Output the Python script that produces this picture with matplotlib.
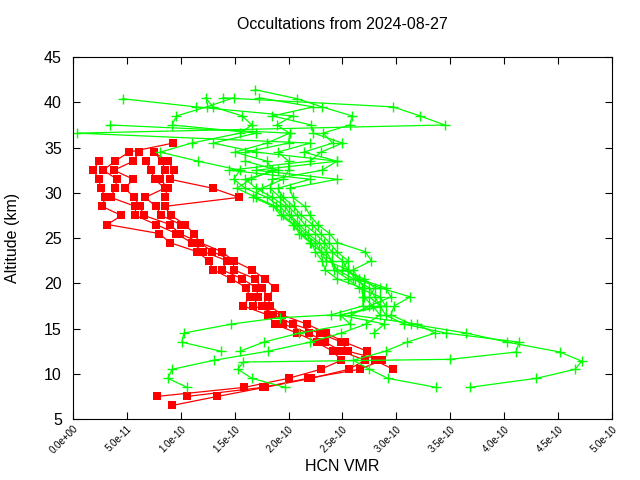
import numpy as np
import matplotlib
matplotlib.use("Agg")
import matplotlib.pyplot as plt
from matplotlib.ticker import FuncFormatter

nan = np.nan

# red profiles: common altitude grid (km), VMR in units of 1e-10
red_alt = [6.5, 7.5, 8.5, 9.5, 10.5, 11.5, 12.5, 13.5, 14.5, 15.5,
           16.5, 17.5, 18.5, 19.5, 20.5, 21.5, 22.5, 23.5, 24.5, 25.5,
           26.5, 27.5, 28.5, 29.5, 30.5, 31.5, 32.5, 33.5, 34.5, 35.5]
red_1 = [nan, 0.78, 1.59, 2.00, 2.30, 2.49, 2.41, 2.26, 2.08, 1.87,
         1.81, 1.58, 1.64, 1.61, 1.47, 1.30, 1.26, 1.15, 0.90, 0.80,
         0.32, 0.45, 0.27, 0.30, 0.26, 0.24, 0.19, 0.24, nan, nan]
red_2 = [0.92, 1.34, 1.78, 2.21, 2.56, 2.71, 2.49, 2.34, 2.19, 1.95,
         1.94, 1.67, 1.72, 1.70, 1.57, 1.38, 1.43, 1.21, 1.10, 0.96,
         0.77, 0.58, 0.58, 0.35, 0.39, 0.41, 0.28, 0.39, 0.52, 0.93]
red_3 = [nan, 1.06, 1.76, 2.18, 2.66, 2.87, 2.55, 2.49, 2.29, 2.04,
         1.86, 1.75, 1.81, 1.75, 1.69, 1.49, 1.49, 1.29, 1.18, 0.99,
         0.90, 0.66, 0.62, 0.57, 0.48, 0.56, 0.38, 0.56, 0.61, nan]
red_4 = [nan, nan, nan, nan, 2.97, 2.80, 2.73, 2.52, 2.35, 2.17,
         1.94, 1.83, 1.81, 1.87, 1.78, 1.66, 1.49, 1.38, 1.18, 1.12,
         1.04, 0.91, 0.85, 1.54, 1.30, 0.90, 0.94, 0.88, 0.75, nan]
red_5 = [nan, nan, nan, nan, nan, nan, nan, nan, nan, nan,
         nan, nan, nan, nan, nan, nan, nan, nan, nan, nan,
         1.00, 0.82, 0.77, 0.67, 0.85, 0.76, 0.72, 0.68, nan, nan]
red_6 = [nan, nan, nan, nan, nan, nan, nan, nan, nan, nan,
         nan, nan, nan, nan, nan, nan, nan, nan, nan, nan,
         nan, nan, nan, 0.85, 0.88, 0.81, 0.85, 0.83, 0.75, nan]

# green profiles: each with its own altitudes
green_alt_1 = [8.5, 9.5, 10.5, 11.4, 12.4, 13.5, 14.5, 15.5, 16.5, 17.5,
               18.5, 19.5, 20.5, 21.5, 22.5, 23.5, 24.5, 25.5, 26.5, 27.5,
               28.5, 29.5, 30.5, 31.5, 32.5, 33.5, 34.5, 35.5, 36.6, 37.5,
               38.5, 39.5, 40.4, 41.4]
green_1 = [3.68, 4.30, 4.66, 4.72, 4.52, 4.03, 3.65, 3.14, 2.95, 2.98,
           3.13, 2.85, 2.62, 2.55, 2.50, 2.40, 2.33, 2.25, 2.15, 2.08,
           2.00, 1.92, 1.83, 1.85, 2.31, 2.45, 2.14, 2.41, 2.32, 2.57,
           2.59, 2.31, 2.08, 1.69]
green_alt_2 = [8.5, 9.5, 10.5, 11.3, 11.6, 12.4, 13.5, 14.5, 15.5, 16.5,
               17.5, 18.5, 19.5, 20.5, 21.5, 22.5, 23.5, 24.5, 25.5, 26.5,
               27.5, 28.5, 29.5, 30.5, 31.5, 32.5, 33.5, 34.5, 35.5, 36.6,
               37.5, 38.5, 39.5, 40.5]
green_2 = [1.97, 1.66, 1.53, 1.58, 3.50, 4.11, 4.14, 3.46, 3.07, 2.90,
           2.85, 2.80, 2.75, 2.60, 2.45, 2.40, 2.30, 2.25, 2.15, 2.08,
           2.00, 1.92, 1.80, 1.60, 1.49, 1.55, 1.16, 0.81, 1.10, 1.55,
           1.66, 1.57, 1.30, 1.23]
green_alt_3 = [8.5, 9.5, 10.5, 11.5, 12.5, 13.5, 14.5, 15.5, 16.5, 17.5,
               18.5, 19.5, 20.5, 21.5, 22.5, 23.5, 24.5, 25.5, 26.5, 27.5,
               28.5, 29.5, 30.5, 31.5, 32.5, 33.5, 34.5, 35.5, 36.6, 37.5,
               38.5, 39.5, 40.4]
green_3 = [1.06, 0.88, 0.92, 1.31, 1.81, 2.20, 2.49, 2.72, 2.85, 2.78,
           2.70, 2.70, 2.65, 2.55, 2.35, 2.30, 2.20, 2.10, 2.05, 1.95,
           1.88, 1.70, 1.52, 1.65, 1.85, 1.80, 1.50, 1.80, 2.01, 1.89,
           2.04, 1.14, 0.46]
green_alt_4 = [12.5, 13.5, 14.5, 15.5, 16.2, 16.5, 17.5, 18.5, 19.5, 20.5,
               21.5, 22.5, 23.5, 24.5, 25.5, 26.5, 27.5, 28.5, 29.5, 30.5,
               31.5, 32.5, 33.5, 34.5, 35.5, 36.6, 37.5, 38.5, 39.5, 40.5]
green_4 = [1.37, 1.01, 1.03, 1.47, 1.92, 2.39, 2.69, 2.69, 2.68, 2.45,
           2.34, 2.31, 2.25, 2.21, 2.12, 2.04, 1.93, 1.86, 1.67, 1.75,
           1.95, 2.00, 2.00, 1.90, 2.20, 0.04, 3.45, 3.22, 2.97, 1.39]
green_alt_5 = [8.5, 9.5, 10.5, 11.5, 12.5, 13.5, 14.5, 15.5, 16.5, 17.5,
               18.5, 19.5, 20.5, 21.5, 22.5, 23.5, 24.5, 25.5, 26.5, 27.5,
               28.5, 29.5, 30.5, 31.5, 32.5, 33.5, 34.5, 35.5, 36.6, 37.5,
               38.5, 39.5, 40.5]
green_5 = [3.37, 2.92, 2.75, 2.60, 2.90, 3.10, 3.36, 3.19, 2.58, 2.75,
           2.95, 2.90, 2.65, 2.60, 2.77, 2.71, 2.45, 2.38, 2.27, 2.20,
           2.15, 2.04, 2.01, 2.45, 1.70, 2.45, 1.70, 1.30, 1.70, 0.92,
           0.96, 1.24, 1.49]
green_alt_6 = [12.5, 13.5, 14.5, 15.5, 16.5, 17.5, 18.5, 19.5, 20.5, 21.5,
               22.5, 23.5, 24.5, 25.5, 26.5, 27.5, 28.5, 29.5, 30.5, 31.5,
               32.5, 33.5, 34.5, 35.5, 36.6, 37.5, 38.5, 39.5, 40.5]
green_6 = [1.55, 1.77, 2.10, 2.57, 2.48, 2.85, 2.75, 2.80, 2.70, 2.50,
           2.55, 2.45, 2.38, 2.30, 2.22, 2.12, 2.05, 1.95, 1.90, 2.20,
           1.45, 2.20, 2.30, 2.50, 2.23, 2.21, 1.85, 2.23, 1.73]
green_alt_7 = [14.5, 15.5, 16.5, 17.5, 18.5, 19.5, 20.5, 21.5, 22.5, 23.5,
               24.5, 25.5, 26.5, 27.5, 28.5, 29.5, 30.5, 31.5, 32.5, 33.5,
               34.5, 35.5, 36.6, 37.5]
green_7 = [2.79, 2.89, 2.48, 2.90, 2.85, 2.65, 2.55, 2.42, 2.40, 2.35,
           2.28, 2.18, 2.10, 2.02, 1.97, 1.85, 1.70, 1.60, 1.90, 1.60,
           1.60, 2.00, 2.01, 0.34]

red_profiles = [red_1, red_2, red_3, red_4, red_5, red_6]
green_profiles = [(green_alt_1, green_1), (green_alt_2, green_2),
                  (green_alt_3, green_3), (green_alt_4, green_4),
                  (green_alt_5, green_5), (green_alt_6, green_6),
                  (green_alt_7, green_7)]

plt.rcParams['font.family'] = ['Liberation Sans', 'DejaVu Sans']

fig = plt.figure(figsize=(6.4, 4.8), dpi=100)
ax = fig.add_axes([0.114, 0.127, 0.842, 0.754])

for vals in red_profiles:
    ax.plot(np.array(vals) * 1e-10, red_alt, color='#ff0000', lw=0.9,
            marker='s', markersize=5.2, markeredgewidth=0)

for alts, vals in green_profiles:
    ax.plot(np.array(vals) * 1e-10, alts, color='#00ff00', lw=0.9,
            marker='+', markersize=6.5, markeredgewidth=1.0)

ax.set_xlim(0, 5e-10)
ax.set_ylim(5, 45)
ax.set_xticks(np.linspace(0, 5e-10, 11))
ax.set_yticks(range(5, 46, 5))
ax.xaxis.set_major_formatter(FuncFormatter(lambda v, p: '%.1e' % v))
ax.tick_params(direction='in', top=True, right=True, length=5, width=0.8)
ax.tick_params(axis='y', labelsize=11.5, pad=8)
ax.tick_params(axis='x', labelsize=7)
for lab in ax.get_xticklabels():
    lab.set_rotation(45)
    lab.set_ha('right')
    lab.set_va('top')
    lab.set_rotation_mode('anchor')

ax.set_xlabel('HCN VMR', fontsize=11.5, labelpad=2)
ax.set_ylabel('Altitude (km)', fontsize=11.5, labelpad=17)
ax.set_title('Occultations from 2024-08-27', fontsize=11.5, pad=20)

fig.savefig('out.png', dpi=100)
